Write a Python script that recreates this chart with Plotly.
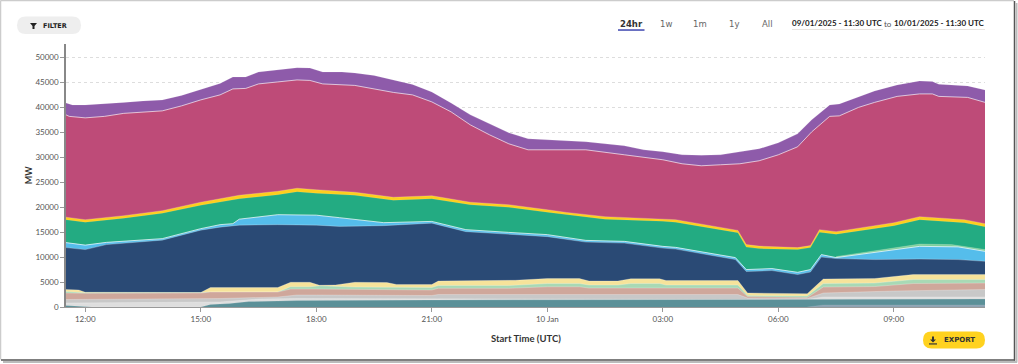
import plotly.graph_objects as go
from datetime import datetime

# Visible stack tops, MW (top layer first)
purple_t = "11:30 11:40 12:00 12:30 13:00 13:30 14:00 14:30 15:00 15:30 15:50 16:10 16:30 17:00 17:30 17:50 18:10 18:40 19:00 19:30 20:00 20:30 21:00 21:30 22:00 22:30 23:00 23:30 00:00 00:30 01:00 01:30 02:00 02:30 03:00 03:30 04:00 04:30 05:00 05:30 06:00 06:30 06:52 07:20 07:35 08:05 08:30 09:05 09:40 10:00 10:10 10:55 11:22".split()
purple_v = [40900,40500,40500,40700,41000,41300,41500,42400,43600,44800,46100,46100,47100,47500,47950,47900,47100,47100,46900,46400,45500,44600,43100,40900,38500,36700,34900,33700,33500,33300,33100,32700,32300,31500,31100,30500,30400,30500,31100,31700,32900,34700,37500,40500,40700,42200,43300,44500,45300,45200,44650,44300,43500]
magenta_t = "11:30 11:35 12:00 12:30 13:00 14:00 14:30 15:00 15:30 15:50 16:10 16:30 17:00 17:30 17:50 18:10 19:00 20:00 20:30 21:00 21:30 22:00 22:30 23:00 23:30 00:00 01:00 02:00 03:00 03:30 04:00 04:30 05:00 05:30 06:00 06:30 06:52 07:20 07:35 08:05 08:30 09:05 09:40 10:00 10:10 10:55 11:22".split()
magenta_v = [38500,38200,37900,38200,38800,39300,40300,41500,42500,43700,43800,44700,45100,45500,45400,44700,44400,43000,42500,41100,39100,36500,34500,32700,31500,31500,31500,30500,29500,28700,28300,28500,28700,29300,30500,32100,35100,38200,38300,40000,41000,42200,42700,42700,42200,42000,41000]
yellow_t = "11:30 12:00 13:00 14:00 15:00 16:00 17:00 17:30 18:00 19:00 20:00 21:00 22:00 23:00 00:00 00:30 01:30 03:00 03:20 04:57 05:10 05:30 06:30 06:50 07:04 07:30 09:00 09:40 10:50 11:22".split()
yellow_v = [18000,17500,18300,19300,21000,22400,23200,23800,23500,23000,22000,22300,21000,20500,19500,18950,18100,17700,17500,15350,12500,12200,11900,12300,15500,15100,16900,18100,17500,16700]
green_t = yellow_t
green_v = [17500,17000,17800,18800,20400,21700,22500,23100,22800,22400,21400,21700,20500,20000,19000,18500,17600,17200,17000,14900,12000,11700,11500,11900,15000,14600,16300,17500,16900,16100]
mint_t = "07:30 08:30 09:10 09:40 10:30 11:00 11:22".split()
mint_v = [10100,11200,12000,12600,12500,12000,11500]
ltblue_t = "11:30 12:00 12:33 14:00 15:00 15:30 15:50 16:00 17:00 18:00 18:36 19:45 21:00 21:53 23:00 00:00 01:00 02:00 03:00 03:20 04:53 05:10 05:50 06:30 06:50 07:07 07:30 08:30 09:40 10:40 11:22".split()
ltblue_v = [12900,12400,12950,13700,15700,16500,16700,17600,18500,18400,17900,16900,17150,15500,14950,14500,13350,13150,12150,11950,9900,7500,7700,6950,7500,10500,9900,10950,12150,12050,11150]
blue_t = "11:30 12:00 12:33 14:00 15:00 15:30 16:00 17:00 18:00 18:36 19:45 21:00 21:53 23:00 00:00 01:00 02:00 03:00 03:20 04:53 05:10 05:50 06:30 06:50 07:07 07:30 08:30 09:40 10:40 11:22".split()
blue_v = [11900,11500,12500,13400,15400,16000,16400,16500,16400,16150,16300,16800,15100,14600,14100,13000,12800,11800,11600,9500,7100,7300,6500,7000,10000,9700,9500,9600,9500,9150]
pale_t = "11:30 11:50 12:00 15:00 15:15 17:00 17:20 17:50 18:05 18:30 19:00 19:50 20:05 21:00 21:10 23:00 23:10 00:00 00:50 01:05 01:50 02:10 02:55 03:05 04:57 05:12 06:00 06:45 07:10 08:30 09:30 11:22".split()
pale_v = [3500,3400,2950,2900,3900,3900,4950,4950,4350,4400,4950,4900,4500,4500,5200,5200,5350,5700,5700,5200,5200,5650,5650,5300,5300,2800,2800,2650,5600,5700,6500,6500]
ltgreen_t = "11:30 11:50 12:00 15:00 15:15 17:00 17:20 17:50 18:05 19:00 19:50 20:05 21:00 21:10 23:00 00:00 00:50 01:05 01:50 02:10 02:55 03:05 04:57 05:12 06:45 07:10 08:30 09:30 11:22".split()
ltgreen_v = [3100,2950,2850,2850,3000,3000,4050,4050,4250,4000,3900,3900,3900,4300,4300,4700,4700,4400,4400,4700,4700,4400,4400,2300,2200,4700,4800,5500,5500]
pink_t = "11:30 12:00 15:00 15:15 17:00 17:20 18:00 19:00 20:05 21:00 21:10 23:00 00:00 00:50 01:05 04:57 05:12 06:45 07:10 08:30 09:30 11:22".split()
pink_v = [2800,2750,2800,3000,3000,3600,3600,3500,3400,3400,3750,3750,4050,4050,3800,3800,2100,1900,4000,4100,4700,4800]
grey_t = "11:30 15:00 15:30 17:00 17:30 18:00 21:00 21:10 04:57 05:12 06:45 07:10 09:00 11:22".split()
grey_v = [1500,1600,1700,2000,2400,2400,2300,2500,2500,1800,1700,2800,3200,3500]
ltgrey_t = "11:30 15:00 15:30 16:30 17:30 04:57 06:45 07:10 11:22".split()
ltgrey_v = [800,900,1000,1600,1700,1500,1500,2000,2000]
teal_t = "11:30 12:00 12:10 15:00 15:15 15:45 16:15 17:00 17:30 21:00 05:00 07:10 11:22".split()
teal_v = [300,100,0,0,500,700,1100,1200,1300,1400,1500,1600,1600]
slate_t = "06:45 07:10 11:22".split()
slate_v = [0,400,400]

y_ticks = [0,5000,10000,15000,20000,25000,30000,35000,40000,45000,50000]
y_tick_labels = [str(v) for v in y_ticks]
x_tick_times = ["12:00","15:00","18:00","21:00","00:00","03:00","06:00","09:00"]
x_tick_labels = ["12:00","15:00","18:00","21:00","10 Jan","03:00","06:00","09:00"]
range_labels = ["24hr","1w","1m","1y","All"]
date_from = "09/01/2025 - 11:30 UTC"
date_to = "10/01/2025 - 11:30 UTC"


def when(s):
    h, m = map(int, s.split(":"))
    late = (h, m) >= (11, 30)
    return datetime(2025, 1, 9 if late else 10, h, m)


layers = [
    (purple_t, purple_v, "#8E5BAA", "rgba(255,255,255,0.15)"),
    (magenta_t, magenta_v, "#BE4B78", "rgba(255,255,255,0.65)"),
    (yellow_t, yellow_v, "#FDCE1E", "rgba(255,255,255,0.2)"),
    (green_t, green_v, "#23AB82", "rgba(255,255,255,0.1)"),
    (mint_t, mint_v, "#7FCF9A", "rgba(255,255,255,0.2)"),
    (ltblue_t, ltblue_v, "#55BDEB", "rgba(255,255,255,0.7)"),
    (blue_t, blue_v, "#2A4A75", "rgba(255,255,255,0.25)"),
    (pale_t, pale_v, "#F6E39A", "rgba(255,255,255,0.25)"),
    (ltgreen_t, ltgreen_v, "#A8D9B5", "rgba(255,255,255,0.25)"),
    (pink_t, pink_v, "#CFA79B", "rgba(255,255,255,0.25)"),
    (grey_t, grey_v, "#C8C8C8", "rgba(255,255,255,0.25)"),
    (ltgrey_t, ltgrey_v, "#DEDEDE", "rgba(255,255,255,0.25)"),
    (teal_t, teal_v, "#5B9098", "rgba(255,255,255,0.15)"),
    (slate_t, slate_v, "#8CA3B3", "rgba(255,255,255,0.1)"),
]

fig = go.Figure()
for t, v, col, edge in layers:
    fig.add_trace(go.Scatter(x=[when(s) for s in t], y=v, mode="lines", fill="tozeroy",
                             fillcolor=col, line=dict(color=edge, width=1), hoverinfo="skip",
                             showlegend=False))

L, R, T, B = 66, 985, 44, 307.5
W, H = 1018, 364


def px(x):
    return (x - L) / (R - L)


def py(y):
    return (B - y) / (B - T)


def pill(x0, x1, y0, y1, col):
    r = (y1 - y0) / 2
    d = (f"M {px(x0+r)} {py(y0)} L {px(x1-r)} {py(y0)} "
         f"Q {px(x1)} {py(y0)} {px(x1)} {py(y0+r)} Q {px(x1)} {py(y1)} {px(x1-r)} {py(y1)} "
         f"L {px(x0+r)} {py(y1)} Q {px(x0)} {py(y1)} {px(x0)} {py(y0+r)} Q {px(x0)} {py(y0)} {px(x0+r)} {py(y0)} Z")
    return dict(type="path", xref="paper", yref="paper", path=d, fillcolor=col, line_width=0, layer="above")


def poly(points, col):
    d = "M " + " L ".join(f"{px(a)} {py(b)}" for a, b in points) + " Z"
    return dict(type="path", xref="paper", yref="paper", path=d, fillcolor=col, line_width=0, layer="above")


def seg(x0, y0, x1, y1, col, w=1):
    return dict(type="line", xref="paper", yref="paper", x0=px(x0), y0=py(y0), x1=px(x1), y1=py(y1),
                line=dict(color=col, width=w), layer="above")


def text(x, y, s, size=9, col="#444", bold=False, anchor="center", fam="Lato", angle=0):
    return dict(xref="paper", yref="paper", x=px(x), y=py(y), text=f"<b>{s}</b>" if bold else s,
                showarrow=False, xanchor=anchor, yanchor="middle", textangle=angle,
                font=dict(size=size, color=col, family=fam))


shapes = [
    seg(0.5, 0.5, 1014, 0.5, "#cccccc", 1.5),
    seg(0.5, 0.5, 0.5, 360, "#cccccc", 1.5),
    seg(1014.5, 1, 1014.5, 361, "#555555", 1.5),
    seg(1, 360.5, 1015, 360.5, "#555555", 1.5),
    seg(3, 362.5, 1017, 362.5, "#bbbbbb", 2),
    seg(1016.5, 3, 1016.5, 363, "#bbbbbb", 2),
    pill(17, 81, 16.5, 34, "#EEEEEE"),
    poly([(30, 23), (37, 23), (34.5, 26), (34.5, 29), (32.5, 29), (32.5, 26)], "#222222"),
    pill(923, 985, 332, 349, "#FFD21F"),
    poly([(932, 337), (934, 337), (934, 340), (936, 340), (933, 343), (930, 340), (932, 340)], "#333333"),
    seg(929, 344.5, 937, 344.5, "#333333", 1.2),
    seg(618, 30, 644.5, 30, "#4A52B5", 1.6),
    seg(792, 29.5, 883, 29.5, "#E8E4E0", 1),
    seg(893, 29.5, 985, 29.5, "#E8E4E0", 1),
]

annotations = [
    text(41, 25.5, "FILTER", 6.5, "#222", True, "left", "DejaVu Sans"),
    text(631, 23.5, range_labels[0], 8.5, "#333", True, fam="DejaVu Sans"),
    text(665.5, 24, range_labels[1], 8.5, "#666", fam="DejaVu Sans"),
    text(699.5, 24, range_labels[2], 8.5, "#666", fam="DejaVu Sans"),
    text(733.5, 24, range_labels[3], 8.5, "#666", fam="DejaVu Sans"),
    text(767.5, 24, range_labels[4], 8.5, "#666", fam="DejaVu Sans"),
    text(837.5, 23, date_from, 8, "#222", True),
    text(888, 23.5, "to", 8, "#555"),
    text(939, 23, date_to, 8, "#222", True),
    text(526, 339.5, "Start Time (UTC)", 9.5, "#333", True),
    text(28.5, 175, "MW", 9, "#333", True, angle=-90),
    text(942, 340.5, "EXPORT", 7, "#333", True, "left", "DejaVu Sans"),
]

fig.update_layout(
    width=W, height=H, autosize=False,
    margin=dict(l=L, r=W - R, t=T, b=H - B),
    paper_bgcolor="white", plot_bgcolor="white",
    shapes=shapes, annotations=annotations,
    xaxis=dict(type="date", range=[when("11:30"), when("11:22")],
               tickvals=[when(s) for s in x_tick_times], ticktext=x_tick_labels,
               ticks="outside", ticklen=4, tickcolor="#999", tickfont=dict(size=8, color="#555", family="Lato"),
               showgrid=False, showline=True, linecolor="#999", zeroline=False),
    yaxis=dict(range=[0, 52700], tickvals=y_ticks, ticktext=y_tick_labels, ticks="outside", ticklen=4, tickcolor="#999",
               tickfont=dict(size=8, color="#555", family="Lato"), showgrid=True,
               gridcolor="#dddddd", griddash="dot", gridwidth=1, showline=True, linecolor="#888",
               linewidth=1.5, zeroline=False, layer="below traces"),
)

fig.write_html("out.html", config=dict(displayModeBar=False),
               post_script="document.body.style.margin='0';document.documentElement.style.overflow='hidden';")
